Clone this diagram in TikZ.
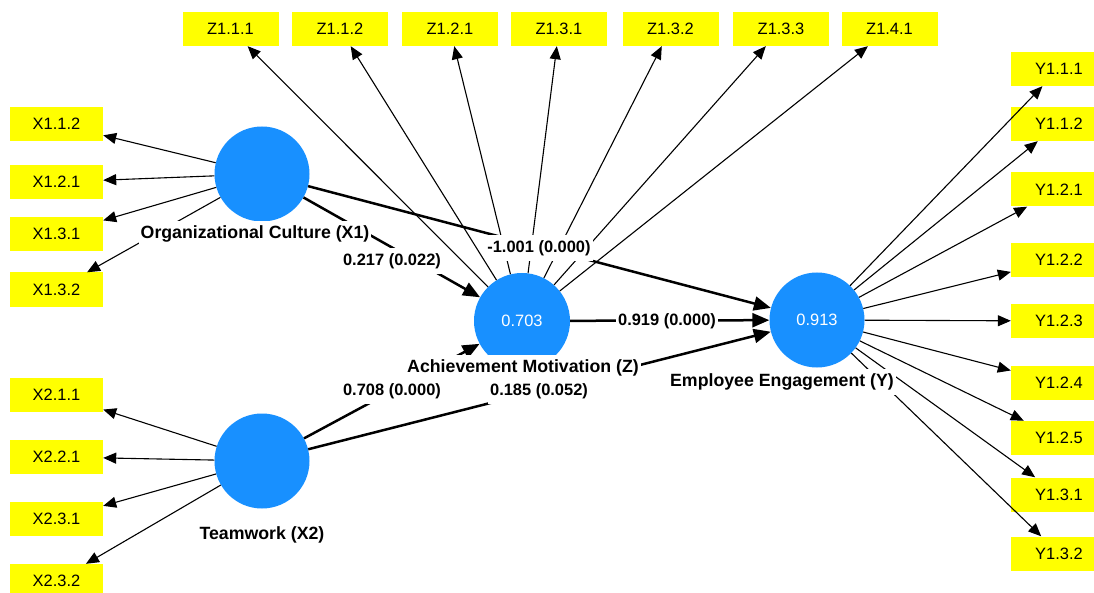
\documentclass[tikz,border=0pt]{standalone}
\usepackage{fontspec}
\setmainfont{Liberation Sans}
\usetikzlibrary{arrows.meta}
\definecolor{indyellow}{RGB}{255,255,0}
\definecolor{latblue}{RGB}{24,144,255}
\tikzset{
  ind/.style={fill=indyellow, minimum height=34bp, inner sep=0pt, font=\fontsize{16.5}{18}\selectfont},
  indx/.style={ind, minimum width=93bp},
  indz/.style={ind, minimum width=96bp},
  lat/.style={circle, fill=latblue, minimum size=95bp, inner sep=0pt, text=white, font=\fontsize{16.5}{18}\selectfont},
  lab/.style={fill=white, inner xsep=2bp, inner ysep=5bp, font=\fontsize{17.8}{20}\selectfont\bfseries},
  coef/.style={fill=white, inner xsep=2bp, inner ysep=5bp, font=\fontsize{16.5}{18}\selectfont\bfseries},
  load/.style={-{Triangle[length=13bp,width=11bp]}, line width=1.1bp},
  pth/.style={-{Triangle[length=17bp,width=14bp]}, line width=2.5bp},
}
\begin{document}
\begin{tikzpicture}[x=1bp,y=-1bp]
\clip (0,0) rectangle (1094,593);
\fill[white] (0,0) rectangle (1094,593);
% latent variables
\node[lat] (X1) at (262,174) {};
\node[lat] (X2) at (262,461) {};
\node[lat, minimum size=96bp] (Z) at (522,321) {0.703};
\node[lat] (Y) at (817,320) {0.913};
% X1 indicators
\node[indx] (x112) at (56.5,124) {X1.1.2};
\node[indx] (x121) at (56.5,182) {X1.2.1};
\node[indx] (x131) at (56.5,234) {X1.3.1};
\node[indx] (x132) at (56.5,289.5) {X1.3.2};
% X2 indicators
\node[indx] (x211) at (56.5,394.5) {X2.1.1};
\node[indx] (x221) at (56.5,457) {X2.2.1};
\node[indx] (x231) at (56.5,519) {X2.3.1};
\node[indx] (x232) at (56.5,581) {X2.3.2};
% Z indicators
\node[indz] (z111) at (230.5,29) {Z1.1.1};
\node[indz] (z112) at (340,29) {Z1.1.2};
\node[indz] (z121) at (450,29) {Z1.2.1};
\node[indz] (z131) at (559,29) {Z1.3.1};
\node[indz] (z132) at (670.5,29) {Z1.3.2};
\node[indz] (z133) at (781,29) {Z1.3.3};
\node[indz] (z141) at (889.5,29) {Z1.4.1};
% Y indicators
\node[indz] (y111) at (1059,69) {Y1.1.1};
\node[indz] (y112) at (1059,124) {Y1.1.2};
\node[indz] (y121) at (1059,189.5) {Y1.2.1};
\node[indz] (y122) at (1059,260) {Y1.2.2};
\node[indz] (y123) at (1059,321) {Y1.2.3};
\node[indz] (y124) at (1059,383) {Y1.2.4};
\node[indz] (y125) at (1059,438) {Y1.2.5};
\node[indz] (y131) at (1059,494.5) {Y1.3.1};
\node[indz] (y132) at (1059,553.5) {Y1.3.2};
% loadings
\foreach \t in {x112,x121,x131,x132} \draw[load] (X1) -- (\t);
\foreach \t in {x211,x221,x231,x232} \draw[load] (X2) -- (\t);
\foreach \t in {z111,z112,z121,z131,z132,z133,z141} \draw[load] (Z) -- (\t);
\foreach \t in {y111,y112,y121,y122,y123,y124,y125,y131,y132} \draw[load] (Y) -- (\t);
% structural paths
\draw[pth] (X1) -- (Z);
\draw[pth] (X1) -- (Y);
\draw[pth] (X2) -- (Z);
\draw[pth] (X2) -- (Y);
\draw[pth] (Z) -- (Y);
% coefficient labels
\node[coef] (c1) at (392,261) {0.217 (0.022)};
\node[coef] (c2) at (539,248) {-1.001 (0.000)};
\node[coef] (c3) at (667,321) {0.919 (0.000)};
\node[coef] (c4) at (392,391) {0.708 (0.000)};
\node[coef] (c5) at (539,391) {0.185 (0.052)};
% latent labels
\node[lab] (lX1) at (255,234) {Organizational Culture (X1)};
\node[lab] (lX2) at (262,535) {Teamwork (X2)};
\node[lab] (lZ) at (523,368) {Achievement Motivation (Z)};
\node[lab] (lY) at (782,382) {Employee Engagement (Y)};
\end{tikzpicture}
\end{document}
